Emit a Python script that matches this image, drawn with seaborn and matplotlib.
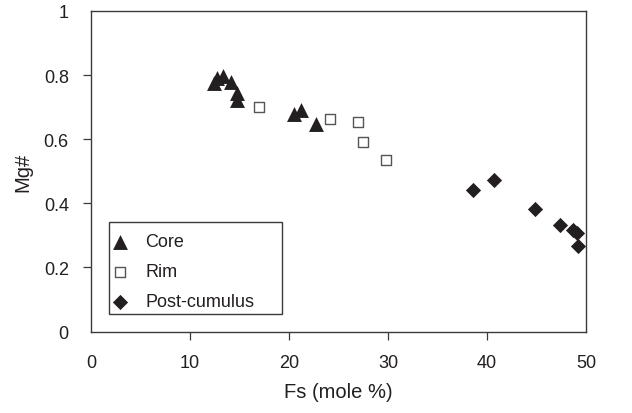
import matplotlib
matplotlib.use("Agg")
import matplotlib.pyplot as plt
import seaborn as sns
import pandas as pd
from matplotlib.ticker import FuncFormatter
from matplotlib.patches import Rectangle

# Data
core_fs = [12.4, 12.7, 13.3, 14.1, 14.7, 14.7, 20.5, 21.2, 22.7]
core_mg = [0.776, 0.792, 0.797, 0.780, 0.745, 0.723, 0.678, 0.690, 0.648]
rim_fs = [17.0, 24.1, 27.0, 27.5, 29.8]
rim_mg = [0.701, 0.663, 0.654, 0.591, 0.536]
post_fs = [38.6, 40.7, 44.8, 47.4, 48.7, 49.1, 49.2]
post_mg = [0.440, 0.473, 0.381, 0.331, 0.317, 0.308, 0.266]

x_ticks = [0, 10, 20, 30, 40, 50]
y_ticks = [0, 0.2, 0.4, 0.6, 0.8, 1.0]
x_label = "Fs (mole %)"
y_label = "Mg#"

sns.set_style("ticks")
plt.rcParams["font.family"] = ["Liberation Sans", "DejaVu Sans"]

ink = "#231f20"
frame_col = "#3a3a3a"
fig = plt.figure(figsize=(6.32, 4.14), dpi=100)
ax = fig.add_axes([91 / 632, (414 - 332.5) / 414, 495 / 632, 320.5 / 414])

core = pd.DataFrame({"Fs": core_fs, "Mg": core_mg})
rim = pd.DataFrame({"Fs": rim_fs, "Mg": rim_mg})
post = pd.DataFrame({"Fs": post_fs, "Mg": post_mg})

sns.scatterplot(data=core, x="Fs", y="Mg", marker="^", s=115, color=ink,
                linewidth=0, ax=ax, label="Core", zorder=3)
sns.scatterplot(data=rim, x="Fs", y="Mg", marker="s", s=52, facecolor="white",
                edgecolor="#555555", linewidth=1.0, ax=ax, label="Rim", zorder=3)
sns.scatterplot(data=post, x="Fs", y="Mg", marker="D", s=60, color=ink,
                linewidth=0, ax=ax, label="Post-cumulus", zorder=3)

ax.set_xlim(0, 50)
ax.set_ylim(0, 1)
ax.set_xticks(x_ticks)
ax.set_yticks(y_ticks)
ax.yaxis.set_major_formatter(FuncFormatter(lambda v, p: f"{v:g}"))
ax.set_xlabel(x_label, fontsize=14.5, color=ink, labelpad=8)
ax.set_ylabel(y_label, fontsize=14.5, color=ink, labelpad=8)
ax.tick_params(axis="both", direction="out", length=6, width=0.9, color=frame_col,
               labelsize=13, labelcolor=ink, pad=10)
for sp in ax.spines.values():
    sp.set_visible(True)
    sp.set_color(frame_col)
    sp.set_linewidth(1.0)
for t in (ax.xaxis.get_major_ticks()[0], ax.xaxis.get_major_ticks()[-1],
          ax.yaxis.get_major_ticks()[0], ax.yaxis.get_major_ticks()[-1]):
    t.tick1line.set_visible(False)

# legend box drawn as a frame, entries placed inside it
ax.add_patch(Rectangle((0.0364, 0.0546), 0.3495, 0.287, transform=ax.transAxes,
                       facecolor="white", edgecolor=frame_col, linewidth=1.0,
                       zorder=4))
leg = ax.legend(loc="upper left", bbox_to_anchor=(0.0444, 0.306), borderaxespad=0,
                fontsize=13, frameon=False, handletextpad=0.98,
                labelspacing=0.72, borderpad=0, handlelength=0.8)
leg.set_zorder(5)
for txt in leg.get_texts():
    txt.set_color(ink)

fig.savefig("out.png", dpi=100, facecolor="white")
